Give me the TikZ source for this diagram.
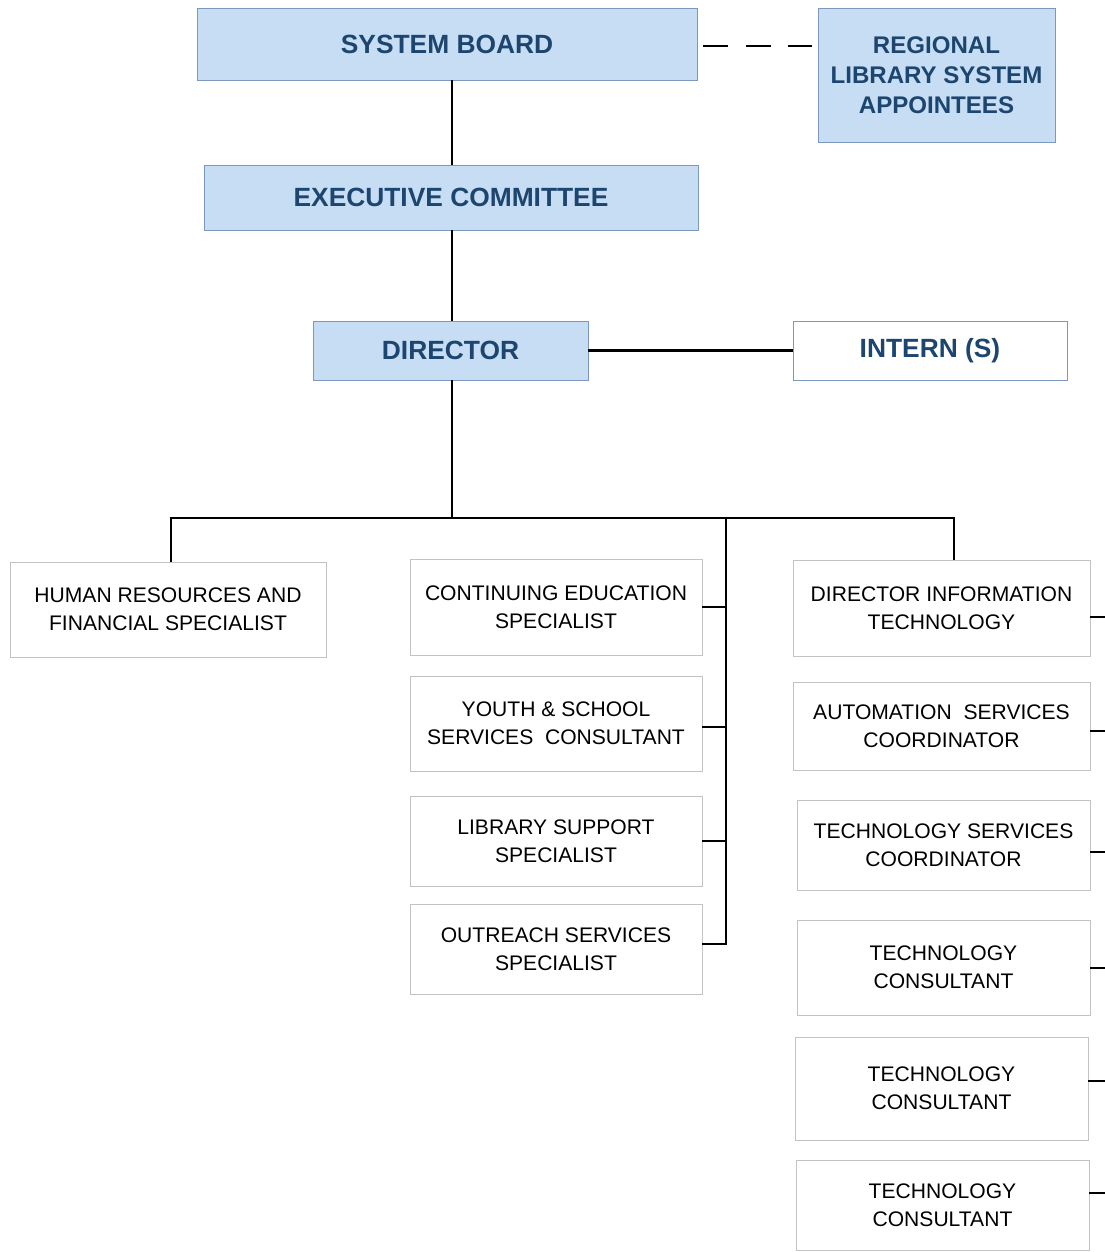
\documentclass[tikz,border=0pt]{standalone}
\usepackage{fontspec}
\setmainfont{Liberation Sans}
\definecolor{bfill}{RGB}{199,221,243}
\definecolor{btext}{RGB}{28,69,112}
\definecolor{bedge}{RGB}{125,152,190}
\definecolor{wedge}{RGB}{195,195,195}
\begin{document}
\begin{tikzpicture}[x=0.02cm,y=-0.02cm,
  bluebox/.style={draw=bedge,line width=0.5pt,fill=bfill,text=btext,align=center,
    font=\fontsize{15}{17.5}\selectfont\bfseries,inner sep=0pt},
  whitebox/.style={draw=wedge,line width=0.5pt,fill=white,text=black,align=center,
    font=\fontsize{12}{16}\selectfont,inner sep=0pt,minimum width=5.84cm},
  conn/.style={line width=1.55pt,black}]
\useasboundingbox (0,0) rectangle (1105,1252);
% top
\node[bluebox,minimum width=10cm,minimum height=1.44cm] (SB) at (447,44) {SYSTEM BOARD};
\node[bluebox,font=\fontsize{13.7}{17.2}\selectfont\bfseries,minimum width=4.74cm,minimum height=2.68cm] (REG) at (936.5,75) {REGIONAL\\LIBRARY SYSTEM\\APPOINTEES};
\node[bluebox,minimum width=9.88cm,minimum height=1.3cm] (EC) at (451,197.5) {EXECUTIVE COMMITTEE};
\node[bluebox,minimum width=5.5cm,minimum height=1.18cm] (DIR) at (450.5,350.5) {DIRECTOR};
\node[draw=bedge,line width=0.5pt,fill=white,text=btext,font=\fontsize{15}{17.5}\selectfont\bfseries,
  inner sep=0pt,minimum width=5.48cm,minimum height=1.18cm] (INT) at (930,350.5) {INTERN (S)};
% left
\node[whitebox,minimum width=6.32cm,minimum height=1.9cm] (HR) at (168,609.5) {HUMAN RESOURCES AND\\FINANCIAL SPECIALIST};
% middle
\node[whitebox,minimum height=1.92cm] (CE) at (556,607) {CONTINUING EDUCATION\\SPECIALIST};
\node[whitebox,minimum height=1.9cm] (YS) at (556,723.5) {YOUTH \& SCHOOL\\SERVICES\ \ CONSULTANT};
\node[whitebox,minimum height=1.8cm] (LS) at (556,841) {LIBRARY SUPPORT\\SPECIALIST};
\node[whitebox,minimum height=1.8cm] (OS) at (556,949) {OUTREACH SERVICES\\SPECIALIST};
% right
\node[whitebox,minimum width=5.94cm,minimum height=1.92cm] (DIT) at (941.5,608) {DIRECTOR INFORMATION\\TECHNOLOGY};
\node[whitebox,minimum width=5.94cm,minimum height=1.76cm] (AS) at (941.5,726) {AUTOMATION\ \ SERVICES\\COORDINATOR};
\node[whitebox,minimum width=5.86cm,minimum height=1.8cm] (TS) at (943.5,845) {TECHNOLOGY SERVICES\\COORDINATOR};
\node[whitebox,minimum width=5.86cm,minimum height=1.9cm] (TC1) at (943.5,967.5) {TECHNOLOGY\\CONSULTANT};
\node[whitebox,minimum width=5.86cm,minimum height=2.06cm] (TC2) at (941.5,1088.5) {TECHNOLOGY\\CONSULTANT};
\node[whitebox,minimum width=5.86cm,minimum height=1.8cm] (TC3) at (942.5,1205) {TECHNOLOGY\\CONSULTANT};
% junction coordinates
\coordinate (bl) at (171,518);
\coordinate (bc) at (452,518);
\coordinate (bm) at (726,518);
\coordinate (br) at (954,518);
\coordinate (mb) at (726,944);
\coordinate (m1) at (726,607);
\coordinate (m2) at (726,727);
\coordinate (m3) at (726,841);
\coordinate (ds) at (703,46);
\coordinate (e1) at (1105,617);
\coordinate (e2) at (1105,731);
\coordinate (e3) at (1105,852);
\coordinate (e4) at (1105,968);
\coordinate (e5) at (1105,1081);
\coordinate (e6) at (1105,1193);
% connectors
\draw[line width=1.55pt,dash pattern=on 0.5cm off 0.35cm,shorten <=0.12cm,shorten >=0.12cm]
  (SB.east |- ds) -- (REG.west |- ds);
\draw[conn] (EC.north -| bc) -- (SB.south -| bc);
\draw[conn] (DIR.north -| bc) -- (EC.south -| bc);
\draw[conn] (DIR.east) -- (INT.west);
\draw[conn] (DIR.south -| bc) -- (bc);
\draw[conn] (HR.north -| bl) -- (bl) -- (br) -- (DIT.north -| br);
\draw[conn] (bm) -- (mb) -- (mb -| OS.east);
\draw[conn] (m1 -| CE.east) -- (m1);
\draw[conn] (m2 -| YS.east) -- (m2);
\draw[conn] (m3 -| LS.east) -- (m3);
\draw[conn] (e1 -| DIT.east) -- (e1);
\draw[conn] (e2 -| AS.east) -- (e2);
\draw[conn] (e3 -| TS.east) -- (e3);
\draw[conn] (e4 -| TC1.east) -- (e4);
\draw[conn] (e5 -| TC2.east) -- (e5);
\draw[conn] (e6 -| TC3.east) -- (e6);
\end{tikzpicture}
\end{document}
